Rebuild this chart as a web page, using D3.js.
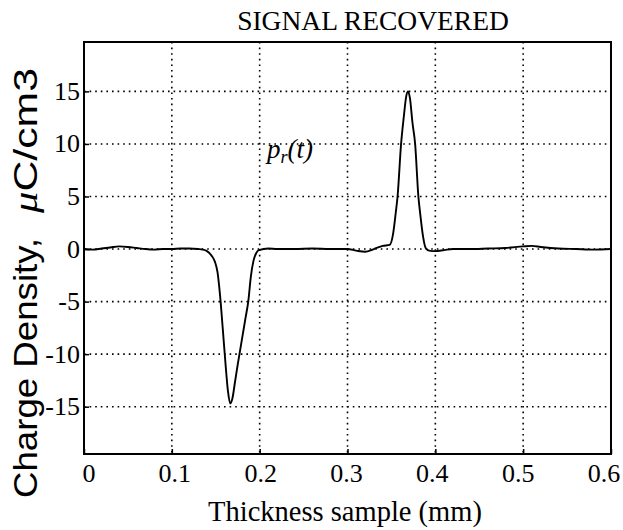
<!DOCTYPE html>
<html>
<head>
<meta charset="utf-8">
<script src="https://cdn.jsdelivr.net/npm/d3@7"></script>
<style>
  body { margin: 0; background: #fff; }
  svg { display: block; }
</style>
</head>
<body>
<svg id="chart"></svg>
<script>
const width = 623, height = 530;
const margin = {top: 42, right: 12, bottom: 76, left: 84};

// recovered signal
const thickness = [
  0.000, 0.010, 0.020, 0.030, 0.040, 0.050, 0.060, 0.070, 0.080, 0.090,
  0.100, 0.110, 0.120, 0.130, 0.135, 0.140, 0.145, 0.149, 0.152, 0.155,
  0.158, 0.161, 0.164, 0.1665, 0.169, 0.172, 0.175, 0.178, 0.181, 0.184,
  0.187, 0.190, 0.193, 0.196, 0.199, 0.210, 0.220, 0.240, 0.260, 0.280,
  0.300, 0.310, 0.320, 0.330, 0.340, 0.348, 0.352, 0.355, 0.357, 0.361,
  0.364, 0.367, 0.369, 0.371, 0.374, 0.377, 0.3807, 0.383, 0.386, 0.389,
  0.393, 0.400, 0.410, 0.420, 0.440, 0.460, 0.480, 0.500, 0.510, 0.520,
  0.540, 0.560, 0.580, 0.600
];
const density = [
  0.0, -0.05, 0.05, 0.15, 0.25, 0.2, 0.1, 0.0, -0.05, 0.0,
  0.0, 0.05, 0.05, 0.0, -0.05, -0.2, -0.6, -1.2, -2.2, -4.5,
  -7.6, -10.8, -13.6, -14.7, -14.2, -12.6, -11.0, -9.5, -8.0, -6.5,
  -5.0, -2.6, -1.1, -0.4, -0.1, 0.05, 0.0, 0.0, 0.05, 0.0,
  0.0, -0.15, -0.25, 0.0, 0.3, 0.4, 1.5, 3.5, 5.0, 10.0,
  12.5, 14.6, 15.0, 14.4, 12.0, 10.0, 5.0, 3.2, 1.2, 0.1,
  -0.15, -0.2, -0.1, 0.0, 0.0, 0.05, 0.1, 0.25, 0.3, 0.2,
  0.05, 0.0, -0.05, 0.0
];

const xTicks = [0, 0.1, 0.2, 0.3, 0.4, 0.5, 0.6];
const xTickLabels = ['0', '0.1', '0.2', '0.3', '0.4', '0.5', '0.6'];
const yTicks = [-15, -10, -5, 0, 5, 10, 15];
const yTickLabels = ['-15', '-10', '-5', '0', '5', '10', '15'];

const x = d3.scaleLinear()
    .domain([0, 0.6])
    .range([margin.left, width - margin.right]);

// tick labels in the printout sit slightly off the ticks
const xLabelPos = d3.scaleLinear()
    .domain([0, 0.6])
    .range([89, 604]);

const y = d3.scaleLinear()
    .domain([-19.5, 19.7])
    .range([height - margin.bottom, margin.top]);

const svg = d3.select('#chart')
    .attr('width', width)
    .attr('height', height)
    .style('font-family', '"Liberation Serif", "Times New Roman", serif');

// dotted grid
const grid = svg.append('g')
    .attr('stroke', '#000')
    .attr('stroke-width', 1.6)
    .attr('stroke-dasharray', '1.6,4');

grid.selectAll('line.vx')
  .data(xTicks.slice(1, -1))
  .join('line')
    .attr('class', 'vx')
    .attr('x1', d => x(d)).attr('x2', d => x(d))
    .attr('y1', y.range()[1]).attr('y2', y.range()[0]);

grid.selectAll('line.hy')
  .data(yTicks)
  .join('line')
    .attr('class', 'hy')
    .attr('x1', x.range()[0]).attr('x2', x.range()[1])
    .attr('y1', d => y(d)).attr('y2', d => y(d));

// axes: ticks pointing inward, labels set separately
svg.append('g')
    .attr('transform', `translate(0,${y.range()[0]})`)
    .call(d3.axisTop(x).tickValues(xTicks).tickSize(5).tickFormat(''))
    .call(g => g.select('.domain').remove())
    .selectAll('line').attr('stroke-width', 1.5);

svg.append('g')
    .attr('transform', `translate(${x.range()[0]},0)`)
    .call(d3.axisRight(y).tickValues(yTicks).tickSize(5).tickFormat(''))
    .call(g => g.select('.domain').remove())
    .selectAll('line').attr('stroke-width', 1.5);

svg.append('g')
  .selectAll('text')
  .data(xTicks)
  .join('text')
    .attr('x', d => xLabelPos(d))
    .attr('y', y.range()[0] + 28)
    .attr('text-anchor', 'middle')
    .attr('font-size', 26)
    .text((d, i) => xTickLabels[i]);

svg.append('g')
  .selectAll('text')
  .data(yTicks)
  .join('text')
    .attr('x', x.range()[0] - 4)
    .attr('y', d => y(d) + 8.5)
    .attr('text-anchor', 'end')
    .attr('font-size', 26)
    .text((d, i) => yTickLabels[i]);

// the curve
const line = d3.line()
    .x(d => x(d[0]))
    .y(d => y(d[1]))
    .curve(d3.curveMonotoneX);

svg.append('path')
    .datum(d3.zip(thickness, density))
    .attr('fill', 'none')
    .attr('stroke', '#000')
    .attr('stroke-width', 1.9)
    .attr('stroke-linejoin', 'round')
    .attr('d', line);

// frame
svg.append('rect')
    .attr('x', x.range()[0])
    .attr('y', y.range()[1])
    .attr('width', x.range()[1] - x.range()[0])
    .attr('height', y.range()[0] - y.range()[1])
    .attr('fill', 'none')
    .attr('stroke', '#000')
    .attr('stroke-width', 2);

// annotation p_r(t)
const note = svg.append('text')
    .attr('x', 267)
    .attr('y', 158)
    .attr('font-size', 27)
    .attr('font-style', 'italic');
note.append('tspan').text('p');
note.append('tspan').attr('font-size', 18).attr('dy', 5).text('r');
note.append('tspan').attr('dy', -5).text('(t)');

// titles
svg.append('text')
    .attr('x', 373)
    .attr('y', 30)
    .attr('text-anchor', 'middle')
    .attr('font-size', 27.5)
    .text('SIGNAL RECOVERED');

svg.append('text')
    .attr('x', 345)
    .attr('y', 521)
    .attr('text-anchor', 'middle')
    .attr('font-size', 28.5)
    .text('Thickness sample (mm)');

svg.append('text')
    .attr('transform', 'translate(37,498) rotate(-90)')
    .attr('font-family', '"Liberation Sans", Arial, sans-serif')
    .attr('font-size', 34)
    .attr('textLength', 260)
    .attr('lengthAdjust', 'spacingAndGlyphs')
    .text('Charge Density,');

const unit = svg.append('text')
    .attr('transform', 'translate(37,213) rotate(-90)')
    .attr('font-family', '"Liberation Sans", Arial, sans-serif')
    .attr('font-size', 34)
    .attr('textLength', 145)
    .attr('lengthAdjust', 'spacingAndGlyphs');
unit.append('tspan')
    .attr('font-family', '"Liberation Serif", serif')
    .attr('font-style', 'italic')
    .text('\u03bc');
unit.append('tspan').text('C/cm3');
</script>
</body>
</html>
